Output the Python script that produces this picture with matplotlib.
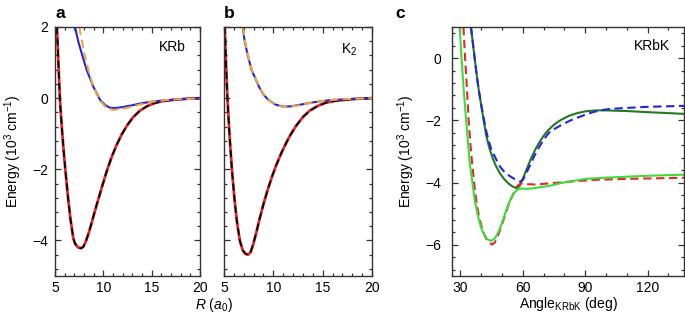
import matplotlib
matplotlib.use("Agg")
import matplotlib.pyplot as plt
from matplotlib.ticker import MultipleLocator

plt.rcParams['font.family'] = ['Liberation Sans', 'DejaVu Sans']
plt.rcParams['mathtext.fontset'] = 'custom'
plt.rcParams['mathtext.rm'] = 'Liberation Sans'
plt.rcParams['mathtext.it'] = 'Liberation Sans:italic'
plt.rcParams['mathtext.bf'] = 'Liberation Sans:bold'
plt.rcParams['font.size'] = 10

# ---------------- Panel a: KRb ----------------
krb_ground_R = [5.2, 5.35, 5.5, 5.7, 5.9, 6.1, 6.35, 6.6, 6.9, 7.1, 7.4, 7.7, 7.95, 8.2, 8.5,
                8.8, 9.1, 9.4, 9.8, 10.3, 10.8, 11.3, 11.9, 12.5, 13.1, 13.8, 14.5, 15.3,
                16.2, 17.2, 18.5, 20.0]
krb_ground_E = [2.0, 1.0, 0.0, -0.8, -1.5, -2.1, -2.8, -3.4, -3.95, -4.1, -4.2, -4.22, -4.17,
                -4.02, -3.78, -3.5, -3.2, -2.92, -2.55, -2.1, -1.7, -1.36, -1.02, -0.75, -0.53,
                -0.35, -0.23, -0.14, -0.08, -0.05, -0.02, 0.0]
krb_exc_R = [7.07, 7.4, 7.76, 8.28, 8.97, 9.66, 10.2, 10.7, 11.2, 12.0, 13.0, 14.0, 15.0,
             16.0, 17.0, 18.0, 20.0]
krb_exc_E = [2.0, 1.6, 1.26, 0.79, 0.32, -0.05, -0.2, -0.27, -0.28, -0.25, -0.2, -0.14,
             -0.1, -0.07, -0.05, -0.03, -0.01]
krb_excfit_R = [7.5, 8.03, 8.45, 8.97, 9.6, 10.3, 11.0, 11.8, 12.5, 13.5, 14.5, 15.5, 17.0, 20.0]
krb_excfit_E = [2.0, 1.26, 0.79, 0.32, -0.05, -0.27, -0.33, -0.31, -0.27, -0.2, -0.13, -0.08,
                -0.04, -0.01]

# ---------------- Panel b: K2 ----------------
k2_ground_R = [5.08, 5.2, 5.35, 5.55, 5.8, 6.05, 6.3, 6.6, 6.9, 7.2, 7.45, 7.7, 7.95, 8.3,
               8.6, 9.0, 9.4, 9.9, 10.3, 10.8, 11.3, 11.7, 12.3, 13.0, 13.7, 14.5, 15.3,
               16.2, 17.2, 18.5, 20.0]
k2_ground_E = [2.0, 1.0, 0.0, -1.0, -2.0, -2.8, -3.45, -4.0, -4.28, -4.38, -4.4, -4.33,
               -4.12, -3.75, -3.4, -2.98, -2.6, -2.18, -1.88, -1.55, -1.26, -1.05, -0.78,
               -0.53, -0.35, -0.22, -0.13, -0.08, -0.05, -0.02, 0.0]
k2_exc_R = [6.89, 7.1, 7.36, 7.8, 8.55, 9.0, 9.5, 10.2, 11.0, 11.8, 12.8, 14.0, 15.0, 16.0,
            17.0, 18.0, 20.0]
k2_exc_E = [2.0, 1.6, 1.26, 0.79, 0.32, 0.1, -0.05, -0.18, -0.24, -0.23, -0.18, -0.12,
            -0.08, -0.05, -0.04, -0.02, 0.0]
k2_excfit_R = [6.92, 7.13, 7.38, 7.82, 8.57, 9.02, 9.52, 10.2, 11.0, 11.8, 12.8, 14.0, 15.0,
               16.0, 17.0, 18.0, 20.0]
k2_excfit_E = [2.0, 1.6, 1.26, 0.79, 0.32, 0.1, -0.05, -0.18, -0.25, -0.24, -0.19, -0.12,
               -0.08, -0.05, -0.03, -0.02, 0.0]

# ---------------- Panel c: KRbK ----------------
lg_ang = [29.7, 30.6, 31.6, 32.8, 33.8, 34.6, 35.8, 37.0, 38.4, 40.0, 41.5, 43.0, 44.8, 46.5,
          48.4, 50.0, 51.5, 53.0, 54.5, 56.0, 57.5, 59.0, 61, 64, 68, 73, 78, 83, 90, 100,
          110, 120, 130, 140]
lg_E = [1.0, 0.0, -1.0, -2.0, -2.8, -3.4, -4.0, -4.6, -5.05, -5.45, -5.68, -5.82, -5.87,
        -5.8, -5.58, -5.3, -5.0, -4.72, -4.48, -4.32, -4.22, -4.19, -4.2, -4.19, -4.15,
        -4.1, -4.02, -3.96, -3.88, -3.84, -3.81, -3.78, -3.76, -3.74]
rd_ang = [31.5, 32.3, 33.2, 34.0, 34.9, 35.7, 36.6, 37.7, 39.0, 40.6, 42.2, 43.8, 45.2, 46.6,
          48.4, 50.0, 51.5, 53.0, 54.5, 56.0, 57.5, 59.0, 62, 66, 70, 77, 86, 95, 110, 125, 140]
rd_E = [1.0, 0.0, -1.0, -2.0, -2.8, -3.4, -4.0, -4.6, -5.1, -5.5, -5.78, -5.93, -5.99, -5.92,
        -5.65, -5.35, -5.05, -4.75, -4.5, -4.28, -4.1, -4.03, -4.05, -4.06, -4.04, -4.0,
        -3.95, -3.91, -3.88, -3.86, -3.84]
dg_ang = [35.1, 36.0, 36.7, 37.8, 38.8, 40.0, 41.2, 42.5, 44.0, 45.5, 47.0, 49.0, 51.0, 53.0,
          55.0, 57.2, 58.5, 60.0, 62.0, 64.0, 66.0, 68.0, 70.0, 72.0, 75.0, 78.0, 82.0,
          86.0, 90.0, 95.0, 100.0, 110.0, 118.0, 128.0, 140.0]
dg_E = [1.0, 0.5, 0.1, -0.5, -1.0, -1.5, -2.0, -2.5, -2.9, -3.2, -3.45, -3.7, -3.88, -4.02,
        -4.12, -4.18, -4.1, -3.88, -3.55, -3.22, -2.94, -2.7, -2.5, -2.33, -2.14, -2.0,
        -1.86, -1.77, -1.71, -1.68, -1.68, -1.7, -1.73, -1.76, -1.8]
bd_ang = [35.1, 36.0, 36.7, 37.8, 38.8, 39.8, 41.0, 42.3, 43.6, 45.0, 47.6, 49.2, 51.5, 54.0,
          56.5, 58.8, 60.2, 62.0, 63.6, 65.5, 67.6, 70.0, 73.2, 78.0, 82.0, 86.0, 90.0,
          94.0, 98.0, 102.0, 110.0, 118.0, 128.0, 140.0]
bd_E = [1.0, 0.5, 0.1, -0.5, -1.0, -1.4, -1.85, -2.3, -2.65, -2.95, -3.3, -3.5, -3.68, -3.8,
        -3.9, -3.97, -3.9, -3.65, -3.43, -3.15, -2.89, -2.62, -2.35, -2.17, -2.03, -1.92,
        -1.82, -1.73, -1.67, -1.63, -1.6, -1.57, -1.55, -1.53]

RED = '#e5262b'
BLUE = '#2424d8'
ORANGE = '#f0a83a'
DGREEN = '#1f7a22'
LGREEN = '#3bdc3b'
SPINE = '#333333'

W, H = 685, 320
fig = plt.figure(figsize=(W / 100, H / 100), dpi=100)


def ax_at(l, t, r, b):
    return fig.add_axes([l / W, 1 - b / H, (r - l) / W, (b - t) / H])


def style(ax, ypad):
    for s in ax.spines.values():
        s.set_color(SPINE)
        s.set_linewidth(1.0)
    ax.tick_params(which='both', direction='in', top=True, right=True, color=SPINE,
                   width=0.9, labelsize=10)
    ax.tick_params(which='major', length=4.5)
    ax.tick_params(which='minor', length=2.5)
    ax.tick_params(axis='x', which='major', pad=3.5)
    ax.tick_params(axis='y', which='major', pad=ypad)


axa = ax_at(55, 27, 200, 276)
axb = ax_at(224, 27, 372, 276)
axc = ax_at(452, 27, 684, 276)

dash = (4, 2.2)

# panel a
axa.plot(krb_ground_R, krb_ground_E, color=RED, lw=2.0)
axa.plot(krb_ground_R, krb_ground_E, color='black', lw=1.3, dashes=dash)
axa.plot(krb_exc_R, krb_exc_E, color=BLUE, lw=1.5)
axa.plot(krb_excfit_R, krb_excfit_E, color=ORANGE, lw=1.5, dashes=dash)

# panel b
axb.plot(k2_ground_R, k2_ground_E, color=RED, lw=2.0)
axb.plot(k2_ground_R, k2_ground_E, color='black', lw=1.3, dashes=dash)
axb.plot(k2_exc_R, k2_exc_E, color=BLUE, lw=1.5)
axb.plot(k2_excfit_R, k2_excfit_E, color=ORANGE, lw=1.5, dashes=dash)

for ax in (axa, axb):
    ax.set_xlim(5, 20)
    ax.set_ylim(-5, 2)
    ax.xaxis.set_major_locator(MultipleLocator(5))
    ax.xaxis.set_minor_locator(MultipleLocator(1))
    ax.set_yticks([2, 0, -2, -4])
    ax.yaxis.set_minor_locator(MultipleLocator(0.4))
style(axa, 5)
style(axb, 5)
axb.tick_params(axis='y', labelleft=False)

# panel c
axc.plot(dg_ang, dg_E, color=DGREEN, lw=1.5)
axc.plot(bd_ang, bd_E, color=BLUE, lw=1.5, dashes=dash)
axc.plot(rd_ang, rd_E, color=RED, lw=1.5, dashes=dash)
axc.plot(lg_ang, lg_E, color=LGREEN, lw=1.5)
axc.set_xlim(26, 137.5)
axc.set_ylim(-7, 1)
axc.set_xticks([30, 60, 90, 120])
axc.xaxis.set_minor_locator(MultipleLocator(10))
axc.set_yticks([0, -2, -4, -6])
axc.yaxis.set_minor_locator(MultipleLocator(0.4))
style(axc, 8)

# labels
ylab = 'Energy (10$^{3}$ cm$^{-1}$)'
axa.set_ylabel(ylab, fontsize=10, labelpad=6)
axc.set_ylabel(ylab, fontsize=10, labelpad=6)
fig.text(213.5 / W, 1 - 305 / H, '$R$ ($a_0$)', ha='center', va='center', fontsize=10)
fig.text(568 / W, 1 - 304 / H, 'Angle$_{\\mathrm{KRbK}}$ (deg)', ha='center', va='center',
         fontsize=10)

axa.text(0.9, 0.92, 'KRb', transform=axa.transAxes, ha='right', va='center', fontsize=10)
axb.text(0.9, 0.91, 'K$_2$', transform=axb.transAxes, ha='right', va='center', fontsize=10)
axc.text(0.94, 0.925, 'KRbK', transform=axc.transAxes, ha='right', va='center', fontsize=10)

for x, lab in ((55, 'a'), (224, 'b'), (395, 'c')):
    fig.text(x / W, 1 - 13 / H, lab, ha='left', va='center', fontsize=12.5, fontweight='bold')

fig.savefig('out.png', dpi=100)
